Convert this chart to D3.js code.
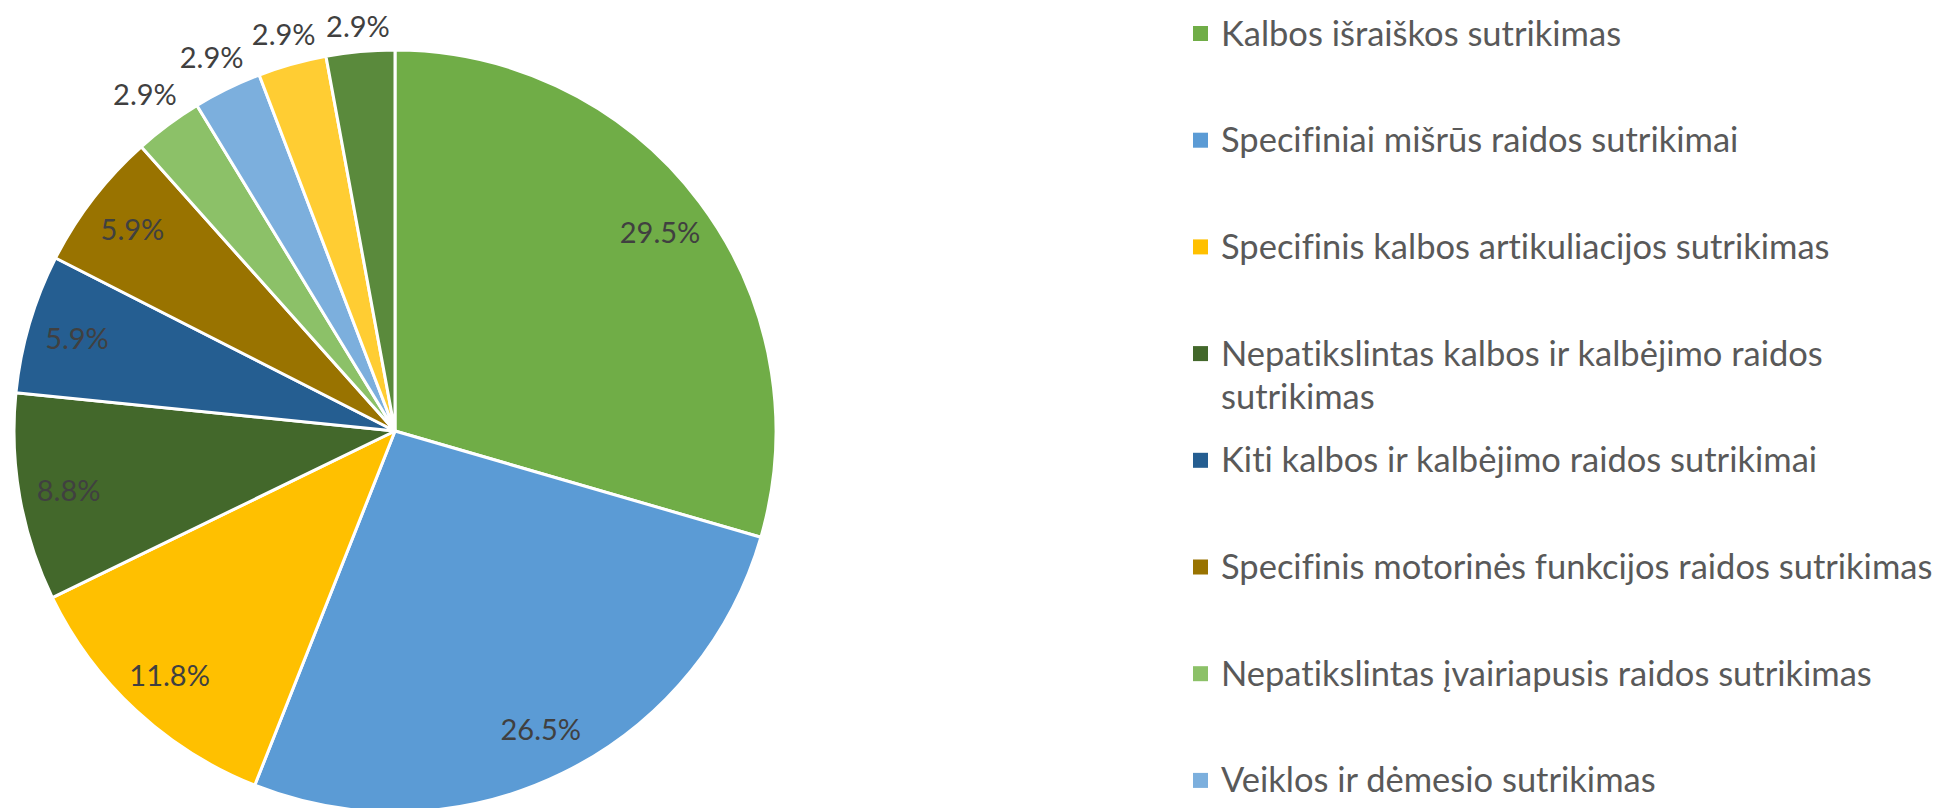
<!DOCTYPE html>
<html lang="lt">
<head>
    <meta charset="UTF-8">
    <title>Raidos sutrikimai</title>
    <script src="https://d3js.org/d3.v7.min.js"></script>
    <style>
        body { margin: 0; background: #fff; }
        svg { display: block; }
        text { font-variant-ligatures: none; }
        .slice-label { font-family: Lato, "Open Sans", sans-serif; font-size: 29px; fill: #404040; }
        .legend-text { font-family: Lato, "Open Sans", sans-serif; font-size: 34.5px; fill: #595959; }
    </style>
</head>
<body>
    <svg id="chart"></svg>
    <script>
        // Categories (legend order = slice order, clockwise from 12 o'clock)
        const categories = [
            "Kalbos išraiškos sutrikimas",
            "Specifiniai mišrūs raidos sutrikimai",
            "Specifinis kalbos artikuliacijos sutrikimas",
            "Nepatikslintas kalbos ir kalbėjimo raidos sutrikimas",
            "Kiti kalbos ir kalbėjimo raidos sutrikimai",
            "Specifinis motorinės funkcijos raidos sutrikimas",
            "Nepatikslintas įvairiapusis raidos sutrikimas",
            "Veiklos ir dėmesio sutrikimas",
            "Kitas sutrikimas",
            "Kitas raidos sutrikimas"
        ];
        // Percent shares
        const shares = [29.5, 26.5, 11.8, 8.8, 5.9, 5.9, 2.9, 2.9, 2.9, 2.9];
        const colors = ["#70AD47", "#5B9BD5", "#FFC000", "#43682B", "#255E91",
                        "#997300", "#8CC168", "#7CAFDD", "#FFCD33", "#5A8A3C"];

        const width = 1943, height = 808;
        const cx = 395, cy = 431, radius = 381;

        const svg = d3.select("#chart").attr("width", width).attr("height", height);

        const color = d3.scaleOrdinal().domain(categories).range(colors);

        const pie = d3.pie().sort(null).value(d => d.value);
        const arcs = pie(categories.map((c, i) => ({ name: c, value: shares[i] })));

        const arc = d3.arc().innerRadius(0).outerRadius(radius);
        const g = svg.append("g").attr("transform", `translate(${cx},${cy})`);

        g.selectAll("path")
            .data(arcs)
            .join("path")
            .attr("d", arc)
            .attr("fill", d => color(d.data.name))
            .attr("stroke", "#fff")
            .attr("stroke-width", 3)
            .attr("stroke-linejoin", "round");

        // Data labels: inside for big slices, just outside the rim for small ones
        const fmt = d => d3.format(".1f")(d) + "%";
        const inner = d3.arc().innerRadius(radius * 0.87).outerRadius(radius * 0.87);

        const labels = g.selectAll("text.slice-label")
            .data(arcs)
            .join("text")
            .attr("class", "slice-label")
            .attr("text-anchor", "middle")
            .attr("dominant-baseline", "central")
            .text(d => fmt(d.data.value));

        labels.each(function (d) {
            const t = d3.select(this);
            const a = (d.startAngle + d.endAngle) / 2;
            if (d.data.value >= 5) {
                const [x, y] = inner.centroid(d);
                t.attr("x", x).attr("y", y);
            } else {
                const bb = this.getBBox();
                const s = Math.sin(a), c = Math.cos(a);
                const dist = radius + 6 + Math.abs(s) * bb.width / 2 + Math.abs(c) * bb.height / 2;
                t.attr("x", dist * s).attr("y", -dist * c);
            }
        });

        // Legend
        const legendX = 1193;
        const legendY = d3.scalePoint().domain(categories).range([33.5, 33.5 + 9 * 106.7]);
        const maxTextWidth = 730;
        const lineHeight = 43;

        const items = svg.append("g").selectAll("g")
            .data(categories)
            .join("g")
            .attr("transform", d => `translate(${legendX},${legendY(d)})`);

        items.append("rect")
            .attr("x", 0).attr("y", -7.5)
            .attr("width", 15).attr("height", 15)
            .attr("fill", d => color(d));

        items.append("text")
            .attr("class", "legend-text")
            .each(function (d) {
                const text = d3.select(this);
                const words = d.split(" ");
                let line = [];
                let tspan = text.append("tspan").attr("x", 28).attr("dy", "0.35em");
                words.forEach(w => {
                    line.push(w);
                    tspan.text(line.join(" "));
                    if (tspan.node().getComputedTextLength() > maxTextWidth && line.length > 1) {
                        line.pop();
                        tspan.text(line.join(" "));
                        line = [w];
                        tspan = text.append("tspan").attr("x", 28).attr("dy", lineHeight).text(w);
                    }
                });
            });
    </script>
</body>
</html>
